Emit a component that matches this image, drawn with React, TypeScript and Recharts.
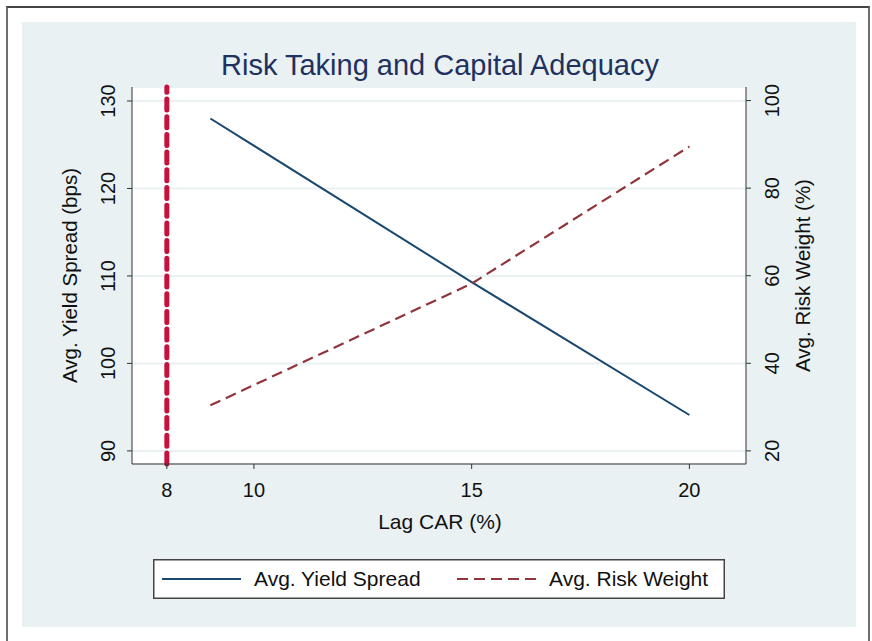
import React from "react";
import {
  ComposedChart,
  Line,
  XAxis,
  YAxis,
  CartesianGrid,
  ReferenceLine,
  Legend,
} from "recharts";

// values
const carTicks = [8, 10, 15, 20];
const spreadTicks = [90, 100, 110, 120, 130];
const weightTicks = [20, 40, 60, 80, 100];
const seriesNames = ["Avg. Yield Spread", "Avg. Risk Weight"];

const spreadData = [
  { car: 9, spread: 128 },
  { car: 15, spread: 109.3 },
  { car: 20, spread: 94.1 },
];

const weightData = [
  { car: 9, weight: 30.4 },
  { car: 15, weight: 58.2 },
  { car: 20, weight: 89.5 },
];

const minimumCar = 8;

const FONT = '"Liberation Sans", Arial, sans-serif';
const NAVY = "#1a476f";
const MAROON = "#90353b";
const CRIMSON = "#c8103c";
const BG = "#e9f1f3";
const AXIS = "#333";

const RotatedTick = (props: any) => {
  const { x, y, payload } = props;
  return (
    <text
      x={x}
      y={y}
      transform={`rotate(-90 ${x} ${y})`}
      textAnchor="middle"
      fontSize={20}
      fontFamily={FONT}
      fill="#111"
    >
      {payload.value}
    </text>
  );
};

const AxisTitle = ({ x, y, text }: { x: number; y: number; text: string }) => (
  <text
    x={x}
    y={y}
    transform={`rotate(-90 ${x} ${y})`}
    textAnchor="middle"
    fontSize={20.5}
    fontFamily={FONT}
    fill="#111"
  >
    {text}
  </text>
);

const LegendBox = (props: any) => {
  const items = [...(props.payload || [])].sort(
    (a: any, b: any) => seriesNames.indexOf(a.value) - seriesNames.indexOf(b.value)
  );
  const slots = [
    { line: 9, text: 101 },
    { line: 304, text: 396 },
  ];
  return (
    <svg width={572} height={40} style={{ display: "block" }}>
      <rect x={0.75} y={0.75} width={570.5} height={38.5} fill="#fff" stroke="#444" strokeWidth={1.5} />
      {items.map((item: any, i: number) => {
        const s = slots[i] || slots[0];
        return (
          <g key={item.value}>
            <line
              x1={s.line}
              x2={s.line + 79}
              y1={20}
              y2={20}
              stroke={item.color}
              strokeWidth={2}
              strokeDasharray={item.payload?.strokeDasharray}
            />
            <text x={s.text} y={27} fontSize={21} fontFamily={FONT} fill="#111">
              {item.value}
            </text>
          </g>
        );
      })}
    </svg>
  );
};

export default function App() {
  return (
    <div
      style={{
        position: "absolute",
        left: 0,
        top: 0,
        width: 872,
        height: 641,
        background: "#fff",
        overflow: "hidden",
        fontFamily: FONT,
      }}
    >
      <div
        style={{
          position: "absolute",
          left: 6,
          top: 6,
          width: 860,
          height: 700,
          borderLeft: "2px solid #6e6e6e",
          borderTop: "2px solid #444",
          borderRight: "2px solid #6e6e6e",
        }}
      />
      <div style={{ position: "absolute", left: 22, top: 22, width: 834, height: 605, background: BG }}>
        <ComposedChart width={834} height={605} margin={{ top: 65, right: 0, bottom: 0, left: 0 }}>
          <CartesianGrid
            yAxisId="left"
            vertical={false}
            fill="#fff"
            fillOpacity={1}
            stroke={BG}
            strokeWidth={2}
          />
          <XAxis
            dataKey="car"
            type="number"
            domain={[7.2, 21.3]}
            ticks={carTicks}
            interval={0}
            allowDataOverflow
            height={163}
            tickSize={5}
            tickMargin={14}
            stroke={AXIS}
            tick={{ fontSize: 20, fill: "#111", fontFamily: FONT }}
            label={{
              content: () => (
                <text x={418} y={507} textAnchor="middle" fontSize={21} fontFamily={FONT} fill="#111">
                  Lag CAR (%)
                </text>
              ),
            }}
          />
          <YAxis
            yAxisId="left"
            orientation="left"
            type="number"
            domain={[88.5, 131.6]}
            ticks={spreadTicks}
            interval={0}
            allowDataOverflow
            width={110}
            tickSize={5}
            tickMargin={12}
            stroke={AXIS}
            tick={<RotatedTick />}
            label={{ content: () => <AxisTitle x={55} y={253.5} text="Avg. Yield Spread (bps)" /> }}
          />
          <YAxis
            yAxisId="right"
            orientation="right"
            type="number"
            domain={[17, 103.1]}
            ticks={weightTicks}
            interval={0}
            allowDataOverflow
            width={110}
            tickSize={5}
            tickMargin={28}
            stroke={AXIS}
            tick={<RotatedTick />}
            label={{ content: () => <AxisTitle x={788} y={253.5} text="Avg. Risk Weight (%)" /> }}
          />
          <ReferenceLine
            yAxisId="left"
            x={minimumCar}
            stroke={CRIMSON}
            strokeWidth={5}
            strokeDasharray="11 6.7"
            strokeLinecap="round"
          />
          <Line
            yAxisId="left"
            data={spreadData}
            dataKey="spread"
            name={seriesNames[0]}
            stroke={NAVY}
            strokeWidth={2}
            dot={false}
            activeDot={false}
            isAnimationActive={false}
          />
          <Line
            yAxisId="right"
            data={weightData}
            dataKey="weight"
            name={seriesNames[1]}
            stroke={MAROON}
            strokeWidth={2.2}
            strokeDasharray="11 6"
            dot={false}
            activeDot={false}
            isAnimationActive={false}
          />
          <Legend
            layout="horizontal"
            verticalAlign="middle"
            align="center"
            content={<LegendBox />}
            wrapperStyle={{ left: 131, top: 537, width: 572, height: 40, margin: 0 }}
          />
        </ComposedChart>
        <svg width={834} height={64} style={{ position: "absolute", left: 0, top: 0 }}>
          <text x={418} y={53} textAnchor="middle" fontSize={29} fontFamily={FONT} fill="#1e3160">
            Risk Taking and Capital Adequacy
          </text>
        </svg>
      </div>
    </div>
  );
}
